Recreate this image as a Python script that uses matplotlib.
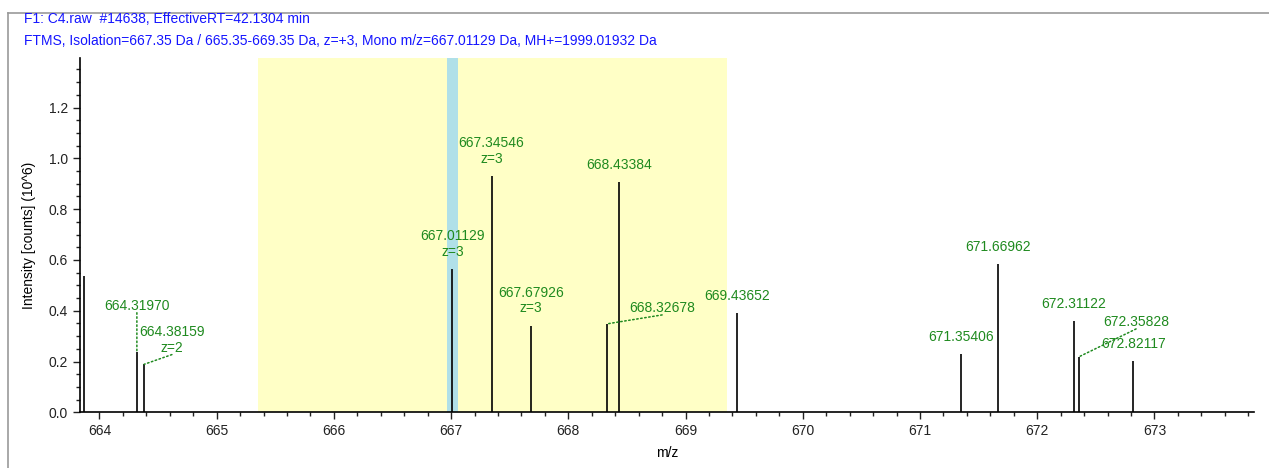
import matplotlib
matplotlib.use("Agg")
import matplotlib.pyplot as plt
from matplotlib.ticker import MultipleLocator
from matplotlib.lines import Line2D

plt.rcParams["font.family"] = ["Liberation Sans", "DejaVu Sans"]

# Centroid peaks: m/z and intensity (10^6 counts)
mz = [663.866, 664.31970, 664.38159, 667.01129, 667.34546, 667.67926,
      668.32678, 668.43384, 669.43652, 671.35406, 671.66962, 672.31122,
      672.35828, 672.82117]
intensity = [0.538, 0.239, 0.189, 0.563, 0.930, 0.341,
             0.348, 0.907, 0.390, 0.228, 0.584, 0.359,
             0.219, 0.202]
# label text per peak (None = unlabelled)
peak_labels = [None, "664.31970", "664.38159\nz=2", "667.01129\nz=3",
               "667.34546\nz=3", "667.67926\nz=3", "668.32678", "668.43384",
               "669.43652", "671.35406", "671.66962", "672.31122",
               "672.35828", "672.82117"]

isolation_window = (665.35, 669.35)
mono_mz = 667.01129
header = ["F1: C4.raw  #14638, EffectiveRT=42.1304 min",
          "FTMS, Isolation=667.35 Da / 665.35-669.35 Da, z=+3, "
          "Mono m/z=667.01129 Da, MH+=1999.01932 Da"]

GREEN = "#1f8a1f"

# labels pushed away from their peak, with a dotted leader (offset in points)
moved = {"664.31970": (0, 28), "664.38159\nz=2": (20, 7),
         "668.32678": (40, 6.5), "672.35828": (41, 20)}

fig = plt.figure(figsize=(12.69, 4.68), dpi=100)
ax = fig.add_axes([0.063, 0.119, 0.9252, 0.7564])

ax.axvspan(*isolation_window, color="#ffffc6", zorder=0, lw=0)
ax.axvspan(mono_mz - 0.045, mono_mz + 0.045, color="#b0e0e8", zorder=0.5, lw=0)

ax.vlines(mz, 0, intensity, color="black", lw=1.2, zorder=2)

for x, y, lab in zip(mz, intensity, peak_labels):
    if lab is None:
        continue
    if lab in moved:
        ax.annotate(lab, xy=(x, y), xytext=moved[lab], textcoords="offset points",
                    ha="center", va="bottom", color=GREEN, fontsize=10,
                    linespacing=1.15,
                    arrowprops=dict(arrowstyle="-", linestyle=":", color=GREEN,
                                    lw=1.1, relpos=(0.5, 0), patchA=None,
                                    shrinkA=0, shrinkB=0))
    else:
        ax.annotate(lab, xy=(x, y), xytext=(0, 7.5), textcoords="offset points",
                    ha="center", va="bottom", color=GREEN, fontsize=10,
                    linespacing=1.15)

ax.set_xlim(663.834, 673.85)
ax.set_ylim(0, 1.394)
ax.xaxis.set_major_locator(MultipleLocator(1))
ax.xaxis.set_minor_locator(MultipleLocator(0.2))
ax.yaxis.set_major_locator(MultipleLocator(0.2))
ax.yaxis.set_minor_locator(MultipleLocator(0.05))
ax.yaxis.set_major_formatter(plt.FormatStrFormatter("%.1f"))
ax.tick_params(which="major", length=5, width=1, labelsize=10, colors="#222222")
ax.tick_params(which="minor", length=3, width=1, colors="#222222")
for s in ("top", "right"):
    ax.spines[s].set_visible(False)
for s in ("left", "bottom"):
    ax.spines[s].set_linewidth(1.2)

ax.set_xlabel("m/z", fontsize=10, labelpad=6)
ax.set_ylabel("Intensity [counts] (10^6)", fontsize=10, labelpad=9)

fig.text(0.019, 0.9595, header[0], color="#1515ff", fontsize=10, va="center")
fig.text(0.019, 0.9125, header[1], color="#1515ff", fontsize=10, va="center")

# gray frame (cut at right / bottom like the original view)
fig.add_artist(Line2D([0.006, 0.006], [0, 0.972], color="#999999", lw=1.2,
                      transform=fig.transFigure))
fig.add_artist(Line2D([0.006, 1.0], [0.972, 0.972], color="#999999", lw=1.2,
                      transform=fig.transFigure))

fig.savefig("out.png", dpi=100)
